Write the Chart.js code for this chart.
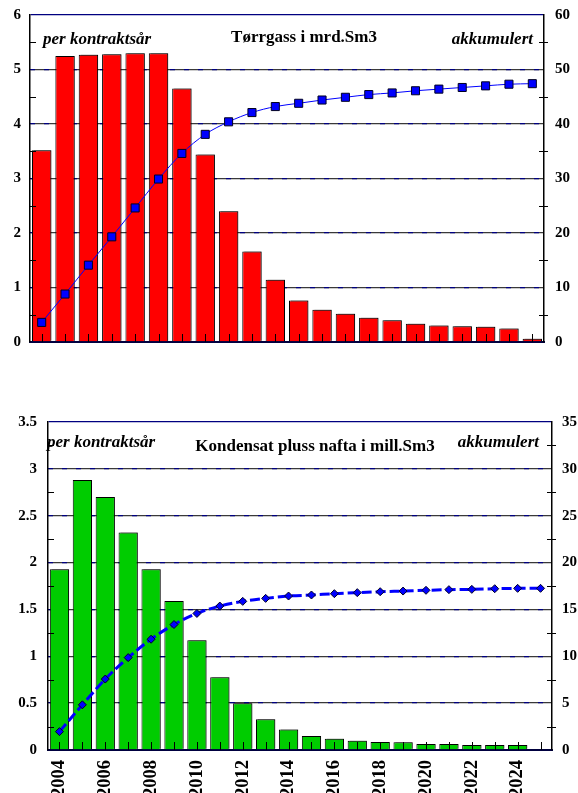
<!DOCTYPE html>
<html><head><meta charset="utf-8">
<script src="https://cdn.jsdelivr.net/npm/chart.js@4/dist/chart.umd.min.js"></script>
<style>
html,body{margin:0;padding:0;background:#fff;overflow:hidden;}
#w1{position:absolute;left:0;top:0;width:578px;height:360px;}
#w2{position:absolute;left:0;top:400px;width:578px;height:393px;}
</style></head><body>
<div id="w1"><canvas id="c1"></canvas></div>
<div id="w2"><canvas id="c2"></canvas></div>
<script>
const years = ['2004','2005','2006','2007','2008','2009','2010','2011','2012','2013','2014','2015','2016','2017','2018','2019','2020','2021','2022','2023','2024','2025'];
const gasPerYear = [3.52,5.25,5.27,5.28,5.30,5.30,4.65,3.44,2.40,1.66,1.14,0.76,0.59,0.52,0.445,0.40,0.335,0.305,0.29,0.28,0.25,0.06];
const gasCumulative = [3.6,8.8,14.1,19.3,24.6,29.9,34.6,38.1,40.4,42.1,43.2,43.8,44.4,44.9,45.4,45.7,46.1,46.4,46.7,47.0,47.3,47.4];
const condPerYear = [1.93,2.88,2.70,2.32,1.93,1.59,1.17,0.776,0.50,0.327,0.22,0.15,0.12,0.10,0.086,0.082,0.064,0.064,0.054,0.054,0.054,0.01];
const condCumulative = [1.96,4.82,7.57,9.86,11.82,13.39,14.57,15.36,15.86,16.18,16.43,16.54,16.68,16.79,16.89,16.96,17.04,17.11,17.14,17.21,17.25,17.25];
const gasLeftTicks = {min:0,max:6,minor:0.5,major:1};
const gasRightTicks = {min:0,max:60,minor:5,major:10};
const condLeftTicks = {min:0,max:3.5,minor:0.25,major:0.5};
const condRightTicks = {min:0,max:35,minor:2.5,major:5};
const texts1 = {left:'per kontraktsår', title:'Tørrgass i mrd.Sm3', right:'akkumulert'};
const texts2 = {left:'per kontraktsår', title:'Kondensat pluss nafta i mill.Sm3', right:'akkumulert'};

const SERIF = "'Liberation Serif','Times New Roman',serif";
const NAVY = '#000080';
function isMajor(v, step){ const r = v/step; return Math.abs(r-Math.round(r))<1e-6; }

function yScale(t, pos, isLeft, padding, width){
  return {
    type:'linear', position:pos, min:t.min, max:t.max,
    afterFit: s => { s.width = width; s.paddingTop = 0; s.paddingBottom = 0; },
    ticks:{ stepSize:t.minor, autoSkip:false, padding:padding, color:'#000',
      font:{family:SERIF, size:15, weight:'bold'},
      callback: v => isMajor(v,t.major) ? String(Math.round(v*100)/100) : '' },
    grid:{ drawTicks:false, lineWidth:1.3,
      color: c => {
        const v = c.tick ? c.tick.value : 0;
        if (!isMajor(v,t.major) || v<=t.min) return 'rgba(0,0,0,0)';
        if (v>=t.max) return isLeft ? NAVY : 'rgba(0,0,0,0)';
        return isLeft ? '#3a3a3a' : NAVY;
      } },
    border:{ display:true, color:'#000', width:1.5, dash: isLeft?[]:[5,9] }
  };
}

const decor = {
  id:'decor',
  beforeDatasetDraw(chart, args){
    if (args.meta.type==='bar'){ const c=chart.ctx; c.save(); c.shadowColor='rgba(0,0,0,0.35)'; c.shadowOffsetX=2; c.shadowOffsetY=-1; c.shadowBlur=0; }
  },
  afterDatasetDraw(chart, args){ if (args.meta.type==='bar') chart.ctx.restore(); },
  afterDatasetsDraw(chart, args, opts){
    const c = chart.ctx, a = chart.chartArea;
    const x = chart.scales.x, yl = chart.scales.y, yr = chart.scales.y2;
    c.save(); c.strokeStyle='#000'; c.lineWidth=1;
    c.beginPath();
    for (let i=0;i<chart.data.labels.length;i++){
      const px = Math.round(x.getPixelForValue(i))+0.5;
      c.moveTo(px,a.bottom); c.lineTo(px,a.bottom-8);
    }
    yl.ticks.forEach(t => { if (!isMajor(t.value,opts.lm)){ const py=Math.round(yl.getPixelForValue(t.value))+0.5; c.moveTo(a.left,py); c.lineTo(a.left+6,py);} });
    yr.ticks.forEach(t => { if (!isMajor(t.value,opts.rm)){ const py=Math.round(yr.getPixelForValue(t.value))+0.5; c.moveTo(a.right-5,py); c.lineTo(a.right+4,py);} });
    c.stroke();
    c.restore();
  },
  afterDraw(chart, args, opts){
    const c = chart.ctx; const T = opts.texts;
    c.save(); c.fillStyle='#000'; c.textBaseline='middle';
    c.font = "italic bold 17px "+SERIF; c.textAlign='left'; c.fillText(T.left, opts.lx, opts.ty);
    c.textAlign='right'; c.fillText(T.right, opts.rx, opts.ty);
    c.font = "bold 17px "+SERIF; c.textAlign='center'; c.fillText(T.title, opts.tx, opts.tty);
    c.restore();
  }
};

function makeChart(id, perYear, cum, color, lt, rt, cfg){
  return new Chart(document.getElementById(id), {
    data:{ labels: years, datasets:[
      { type:'line', data:cum, yAxisID:'y2', order:0,
        borderColor:'#0000ff', borderWidth:cfg.lw, borderDash:cfg.dash, tension:0.35, cubicInterpolationMode:'monotone',
        pointStyle:cfg.ps, pointRadius:cfg.pr, pointBackgroundColor:'#0000ff', pointBorderColor:'#000022', pointBorderWidth:1 },
      { type:'bar', data:perYear, yAxisID:'y', order:1,
        backgroundColor:color, borderColor:'#000', borderWidth:1, borderSkipped:'bottom',
        categoryPercentage:1, barPercentage:cfg.bp }
    ]},
    options:{
      responsive:true, maintainAspectRatio:false, animation:false,
      layout:{ padding:{ top:cfg.top, left:0, right:0, bottom:0 } },
      plugins:{ legend:{display:false}, tooltip:{enabled:false},
        decor:{ texts:cfg.texts, lx:cfg.lx, rx:cfg.rx, ty:cfg.ty, tx:cfg.tx, tty:cfg.tty, lm:lt.major, rm:rt.major } },
      scales:{
        x:{ afterFit: s => { s.height = cfg.xh; s.paddingLeft = 0; s.paddingRight = 0; },
          grid:{ display:false },
          border:{ display:true, color:'#000040', width:2 },
          ticks:{ display:cfg.xt, autoSkip:false, minRotation:90, maxRotation:90, padding:2, color:'#000',
            font:{family:SERIF, size:18.5, weight:'bold'},
            callback:(v,i) => (parseInt(years[i])%2===0) ? years[i] : '' } },
        y: yScale(lt,'left',true,cfg.lp,cfg.lw0),
        y2: yScale(rt,'right',false,cfg.rp,cfg.rw0)
      }
    },
    plugins:[decor]
  });
}

makeChart('c1', gasPerYear, gasCumulative, '#ff0000', gasLeftTicks, gasRightTicks,
  {lw:1, dash:[], ps:'rect', pr:5.7, bp:0.83, top:15, xh:18, xt:false, lp:9, rp:11, lw0:30, rw0:34,
   texts:texts1, lx:43, rx:533, ty:40, tx:304, tty:38});
makeChart('c2', condPerYear, condCumulative, '#00cc00', condLeftTicks, condRightTicks,
  {lw:3, dash:[10,4], ps:'rectRot', pr:4, bp:0.84, top:22, xh:43, xt:true, lp:11, rp:10, lw0:48, rw0:26,
   texts:texts2, lx:47, rx:539, ty:43, tx:315, tty:47});
</script>
</body></html>
